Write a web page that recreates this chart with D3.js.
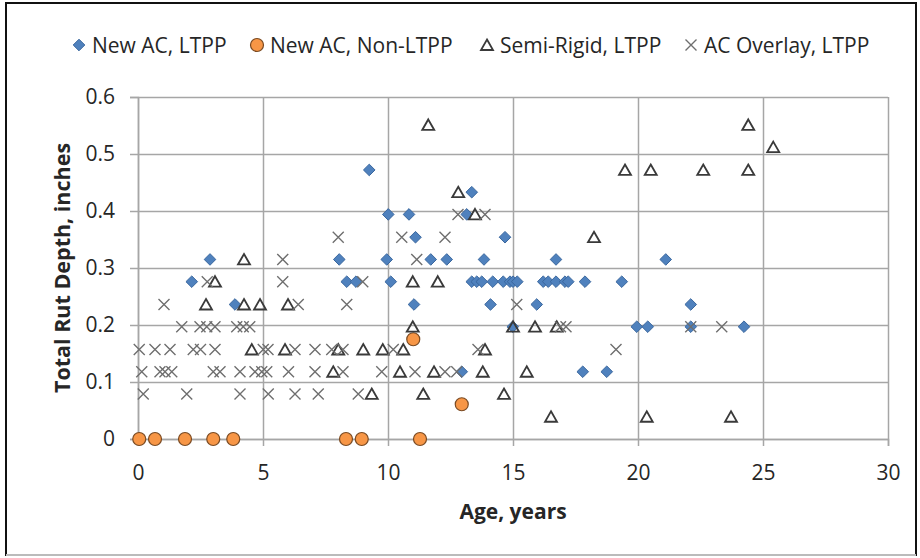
<!DOCTYPE html>
<html>
<head>
<meta charset="utf-8">
<script src="https://cdn.jsdelivr.net/npm/d3@7"></script>
<style>
  html, body { margin: 0; padding: 0; background: #fff; }
  svg text { font-family: "Open Sans", Lato, "Liberation Sans", sans-serif; fill: #262626; }
</style>
</head>
<body>
<svg id="chart" width="920" height="558"></svg>
<script>
// Rut depth (inches) against pavement age (years), one [age, rut] list per section type
const newAcLtpp = [
  [2.15,0.276],[2.88,0.315],[3.88,0.236],[8.05,0.315],[8.35,0.276],[8.72,0.276],[9.25,0.472],
  [9.95,0.315],[10.01,0.394],[10.84,0.394],[10.11,0.276],[11.04,0.236],[11.1,0.354],[11.71,0.315],
  [12.35,0.315],[12.95,0.118],[13.15,0.394],[13.35,0.433],[13.35,0.276],[13.55,0.276],[13.75,0.276],
  [13.84,0.315],[14.1,0.236],[14.19,0.276],[14.61,0.276],[14.88,0.276],[15.0,0.276],[15.17,0.276],
  [14.68,0.354],[14.99,0.197],[15.95,0.236],[16.21,0.276],[16.41,0.276],[16.72,0.276],[16.72,0.315],
  [17.08,0.276],[17.21,0.276],[17.88,0.276],[19.35,0.276],[17.79,0.118],[18.75,0.118],[19.95,0.197],
  [20.39,0.197],[21.11,0.315],[22.11,0.236],[22.11,0.197],[24.24,0.197]
];
const newAcNonLtpp = [
  [0.05,0],[0.68,0],[1.88,0],[3.01,0],[3.81,0],[8.32,0],[8.95,0],[11.28,0],[11.01,0.175],[12.95,0.061]
];
const semiRigidLtpp = [
  [3.08,0.276],[4.24,0.315],[2.72,0.236],[4.24,0.236],[4.88,0.236],[6.0,0.236],[4.55,0.157],
  [5.88,0.157],[8.01,0.157],[9.01,0.157],[9.79,0.157],[10.61,0.157],[7.81,0.118],[10.48,0.118],
  [11.84,0.118],[13.79,0.118],[9.35,0.079],[11.41,0.079],[10.99,0.197],[10.99,0.276],[11.99,0.276],
  [11.61,0.551],[12.81,0.433],[13.48,0.394],[15.0,0.197],[15.88,0.197],[16.75,0.197],[13.88,0.157],
  [15.55,0.118],[14.64,0.079],[16.52,0.039],[20.35,0.039],[18.24,0.354],[19.48,0.472],[20.51,0.472],
  [24.41,0.551],[25.41,0.512],[22.61,0.472],[24.41,0.472],[23.72,0.039]
];
const acOverlayLtpp = [
  [5.79,0.315],[11.15,0.315],
  [8.01,0.354],[10.55,0.354],[12.28,0.354],
  [12.8,0.394],[13.88,0.394],
  [2.77,0.276],[5.79,0.276],[8.99,0.276],
  [1.04,0.236],[6.41,0.236],[8.35,0.236],[15.15,0.236],
  [1.75,0.197],[2.48,0.197],[2.75,0.197],[3.08,0.197],[3.95,0.197],[4.21,0.197],[4.47,0.197],
  [16.9,0.197],[17.12,0.197],[22.11,0.197],[23.35,0.197],
  [0.05,0.157],[0.68,0.157],[1.28,0.157],[2.21,0.157],[2.5,0.157],[3.08,0.157],[5.01,0.157],
  [5.2,0.157],[6.28,0.157],[7.08,0.157],[7.75,0.157],[8.2,0.157],[10.21,0.157],[13.6,0.157],[19.12,0.157],
  [0.15,0.118],[0.88,0.118],[1.08,0.118],[1.35,0.118],[3.01,0.118],[3.28,0.118],[4.08,0.118],
  [4.68,0.118],[4.95,0.118],[5.15,0.118],[6.02,0.118],[7.08,0.118],[8.2,0.118],[9.75,0.118],
  [11.08,0.118],[12.28,0.118],[12.75,0.118],
  [0.21,0.079],[1.95,0.079],[4.08,0.079],[5.21,0.079],[6.28,0.079],[7.21,0.079],[8.81,0.079]
];

const seriesNames = ["New AC, LTPP", "New AC, Non-LTPP", "Semi-Rigid, LTPP", "AC Overlay, LTPP"];
const xTicks = [0, 5, 10, 15, 20, 25, 30];
const yTicks = [0, 0.1, 0.2, 0.3, 0.4, 0.5, 0.6];
const xTitle = "Age, years";
const yTitle = "Total Rut Depth, inches";

const svg = d3.select("#chart");

// outer frame
svg.append("rect").attr("x", 6).attr("y", 3).attr("width", 910).attr("height", 552)
  .attr("fill", "none").attr("stroke", "#111").attr("stroke-width", 2);
svg.append("line").attr("x1", 6).attr("x2", 916).attr("y1", 555).attr("y2", 555)
  .attr("stroke", "#bbb").attr("stroke-width", 2);

const x = d3.scaleLinear().domain([0, 30]).range([138, 888]);
const y = d3.scaleLinear().domain([0, 0.6]).range([439, 97]);
const gridColor = "#a6a6a6";

// axes with outside tick marks, plus full-length gridlines
svg.append("g").attr("transform", `translate(0,${y(0)})`)
  .call(d3.axisBottom(x).tickValues(xTicks).tickSize(7).tickPadding(19).tickFormat(d3.format("d")));
svg.append("g").attr("transform", `translate(0,${y(0)})`)
  .call(d3.axisBottom(x).tickValues(xTicks).tickSize(-(y(0) - y(0.6))).tickFormat(""))
  .call(g => g.select(".domain").remove());
svg.append("g").attr("transform", `translate(${x(0)},0)`)
  .call(d3.axisLeft(y).tickValues(yTicks).tickSize(8).tickPadding(15).tickFormat(d => d === 0 ? "0" : d3.format(".1f")(d)));
svg.append("g").attr("transform", `translate(${x(0)},0)`)
  .call(d3.axisLeft(y).tickValues(yTicks).tickSize(-(x(30) - x(0))).tickFormat(""))
  .call(g => g.select(".domain").remove());

svg.selectAll(".tick line").attr("stroke", gridColor).attr("stroke-width", 1.5);
svg.selectAll(".domain").attr("stroke", gridColor).attr("stroke-width", 1.5);
svg.selectAll(".tick text").attr("font-size", 21).attr("fill", "#262626")
  .style("font-family", "'Open Sans', Lato, sans-serif");

// axis titles
svg.append("text").attr("x", 513).attr("y", 519).attr("text-anchor", "middle")
  .attr("font-size", 21).attr("font-weight", "bold").text(xTitle);
svg.append("text").attr("transform", "translate(70,268) rotate(-90)").attr("text-anchor", "middle")
  .attr("font-size", 21.5).attr("font-weight", "bold").text(yTitle);

// marker shapes
const diamondPath = "M0,-5.8L5.8,0L0,5.8L-5.8,0Z";
const trianglePath = "M0,-5.5L6,5L-6,5Z";
const crossPath = "M-5.5,-5.5L5.5,5.5M-5.5,5.5L5.5,-5.5";

const styles = [
  { data: newAcLtpp, draw: g => g.append("path").attr("d", diamondPath).attr("fill", "#4F81BD").attr("stroke", "#3A679E").attr("stroke-width", 1) },
  { data: newAcNonLtpp, draw: g => g.append("circle").attr("r", 6.5).attr("fill", "#F79646").attr("stroke", "#7a4a22").attr("stroke-width", 1.2) },
  { data: semiRigidLtpp, draw: g => g.append("path").attr("d", trianglePath).attr("fill", "none").attr("stroke", "#3a3a3a").attr("stroke-width", 1.8) },
  { data: acOverlayLtpp, draw: g => g.append("path").attr("d", crossPath).attr("fill", "none").attr("stroke", "#6e6e6e").attr("stroke-width", 1.4) }
];

styles.forEach(s => {
  svg.append("g").selectAll("g").data(s.data).join("g")
    .attr("transform", d => `translate(${x(d[0])},${y(d[1])})`)
    .each(function () { s.draw(d3.select(this)); });
});

// legend entries across the top
const legendX = [79, 257, 487, 691];
const legend = svg.append("g").attr("transform", "translate(0,45)");
seriesNames.forEach((name, i) => {
  const item = legend.append("g").attr("transform", `translate(${legendX[i]},0)`);
  styles[i].draw(item);
  item.append("text").attr("x", 13).attr("y", 7.5).attr("font-size", 21).text(name);
});
</script>
</body>
</html>
